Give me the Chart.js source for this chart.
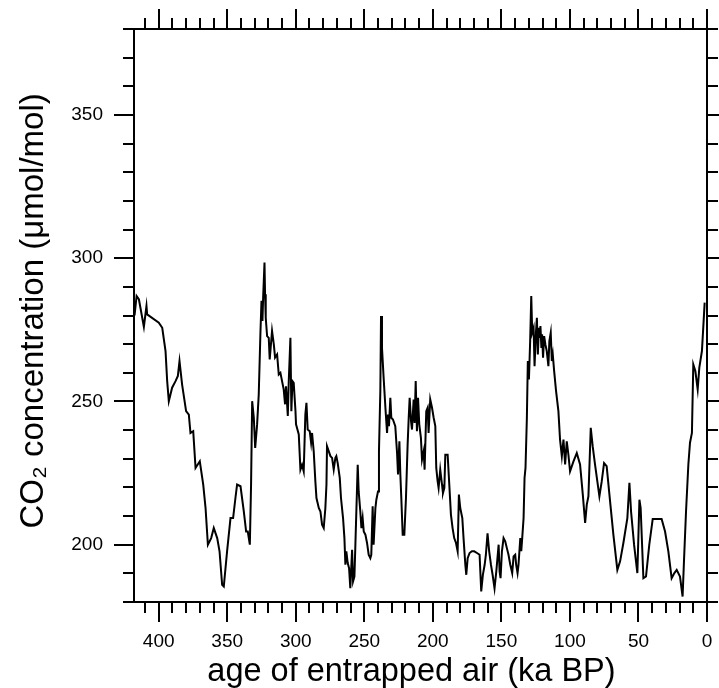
<!DOCTYPE html>
<html>
<head>
<meta charset="utf-8">
<script src="https://cdn.jsdelivr.net/npm/chart.js@4.4.1/dist/chart.umd.min.js"></script>
<style>
html,body{margin:0;padding:0;background:#fff;}
#wrap{width:719px;height:688px;}
</style>
</head>
<body>
<div id="wrap"><canvas id="c" width="719" height="688"></canvas></div>
<script>
// age of entrapped air (ka BP)
const ages = [
417.6,416.1,414.4,410.8,408.9,408.4,399.9,397.4,395.0,393.8,392.6,390.2,387.7,386.0,384.8,382.9,380.0,378.0,376.8,374.8,
373.1,370.0,367.5,365.8,364.1,361.7,359.8,357.3,355.6,353.7,352.5,350.1,347.6,345.7,344.0,342.8,340.3,337.9,336.2,335.0,
333.5,332.6,331.8,330.6,329.6,328.2,327.0,325.8,325.0,324.3,323.8,322.8,322.4,321.9,320.9,319.7,319.0,317.3,316.0,315.1,
313.6,312.4,311.2,308.8,307.8,307.1,305.8,305.1,303.9,303.2,302.4,301.5,300.2,299.8,297.8,
296.6,295.4,294.2,293.0,292.2,291.3,289.8,288.8,288.1,286.9,285.7,284.9,283.2,282.0,280.8,279.6,278.4,277.6,277.2,275.9,
274.7,273.5,272.3,271.1,270.4,269.4,267.9,267.0,265.5,264.5,263.8,263.1,262.1,261.1,260.2,258.9,258.2,257.2,256.5,255.8,
254.8,254.1,252.9,252.1,251.2,250.4,249.2,248.0,246.8,245.6,244.9,243.9,243.2,241.9,241.2,240.0,239.3,238.3,237.8,237.1,
235.9,234.6,233.4,232.7,232.0,231.0,230.3,229.1,227.4,226.1,225.4,224.4,223.7,223.0,222.0,220.8,219.6,218.4,217.6,216.9,
215.9,215.2,214.0,213.3,212.5,211.6,210.8,209.9,208.7,207.9,206.7,206.0,204.8,203.8,203.1,201.9,200.6,199.4,198.2,197.5,
196.5,195.8,194.6,193.3,192.6,191.6,190.9,189.2,188.0,186.8,185.6,184.4,183.1,181.9,181.0,180.0,178.5,177.6,176.3,175.6,
174.6,173.2,171.5,169.8,167.8,165.9,164.7,163.5,162.2,161.3,160.1,158.9,157.6,156.4,155.0,153.7,152.0,151.3,150.6,149.6,
148.4,147.2,146.0,144.8,143.5,142.1,141.1,139.9,139.2,138.2,137.5,136.2,135.5,134.8,133.8,133.1,132.4,131.4,130.7,129.9,
129.0,128.2,127.5,126.5,125.8,124.8,124.1,123.4,122.6,
122.2,121.5,120.8,120.3,119.6,118.8,117.9,116.9,115.7,115.0,114.0,113.2,112.5,111.5,110.1,108.4,107.2,105.9,104.7,103.5,
102.3,101.1,99.9,97.4,95.0,92.6,90.6,88.9,87.7,86.5,84.8,83.4,81.7,80.0,78.5,76.8,75.1,73.2,70.7,68.3,
65.4,63.4,61.0,58.1,56.6,55.4,53.2,50.8,49.3,48.4,46.4,44.5,42.1,39.6,36.7,33.1,30.6,28.2,25.8,23.8,
22.1,19.7,17.8,16.8,15.3,13.6,12.4,11.0,10.0,8.5,6.8,5.6,3.7,1.7
];
// CO2 concentration (umol/mol)
const co2 = [
280.0,286.8,285.6,276.0,283.3,280.4,277.5,275.7,267.6,257.1,250.1,254.8,257.1,258.9,264.1,255.9,246.6,245.4,239.0,239.6,
226.8,229.1,221.0,212.8,200.0,202.3,205.8,202.3,197.7,186.0,185.4,197.7,209.3,209.3,216.3,221.0,220.4,211.6,204.6,204.6,
200.0,221.0,250.1,244.3,233.8,241.9,252.4,273.4,285.1,278.1,286.2,298.5,287.4,279.2,272.8,272.2,264.7,274.6,269.9,265.3,
266.4,259.4,260.0,254.2,249.0,255.3,244.9,257.1,272.2,246.6,257.1,256.5,246.6,242.0,238.5,
226.2,227.9,225.6,245.4,249.5,240.2,239.6,235.6,239.0,232.6,222.1,216.3,212.8,211.6,207.0,205.8,212.8,221.0,234.4,232.6,
230.9,230.3,226.2,230.3,230.9,228.5,223.3,216.3,209.3,202.3,193.0,197.7,193.6,191.8,184.8,198.2,187.2,188.9,200.0,211.6,
227.9,218.6,211.6,205.8,209.3,204.6,203.5,200.6,196.5,195.3,196.5,213.4,200.0,212.8,215.7,218.6,232.6,253.6,279.8,268.7,
258.3,247.8,239.0,245.4,241.4,251.3,244.3,243.7,241.4,232.0,224.5,236.1,224.5,216.3,203.5,203.5,216.3,234.9,244.3,251.3,
243.1,240.2,250.7,242.5,257.1,239.6,251.3,242.0,237.3,229.7,232.6,226.2,246.6,247.8,239.0,250.7,247.8,244.3,241.4,226.8,
222.1,219.8,226.2,221.0,218.0,219.8,231.4,231.4,221.0,210.5,205.8,202.3,200.6,197.7,217.5,212.8,209.3,202.3,193.0,189.5,
195.3,197.1,197.7,197.7,197.1,196.5,183.7,189.5,193.0,196.5,204.0,197.7,193.0,189.5,184.8,190.7,200.0,190.7,188.3,197.7,
202.3,201.2,198.8,196.5,193.0,190.1,195.9,196.5,193.0,190.1,193.0,202.3,197.7,202.3,209.3,223.3,226.8,244.3,264.1,257.7,
271.1,286.8,274.0,275.7,262.3,274.0,279.2,266.4,275.7,
272.2,276.3,268.7,273.4,265.3,272.8,269.9,267.6,262.3,271.1,274.0,264.1,266.4,260.6,253.6,246.6,236.7,230.9,236.7,228.0,
236.1,231.4,225.6,229.1,232.0,228.0,217.5,207.6,214.0,216.9,240.8,234.4,228.0,222.1,216.9,222.1,228.5,227.4,215.1,203.5,
191.2,194.2,200.6,209.3,221.6,211.6,200.0,190.1,215.7,212.8,188.3,188.9,200.0,209.0,209.0,209.0,204.6,197.7,188.3,190.1,
191.2,188.9,181.9,194.2,211.6,228.0,235.6,239.0,262.9,260.6,254.2,261.8,267.6,284.5
];
// tick labels
const xTickLabels = [400, 350, 300, 250, 200, 150, 100, 50, 0];
const yTickLabels = [200, 250, 300, 350];
const xTitle = 'age of entrapped air (ka BP)\u00a0\u00a0';
const yTitle = '\u00a0CO\u2082 concentration (\u03bcmol/mol)';

const FONT = "'Liberation Sans', Arial, Helvetica, sans-serif";
const X_MIN = 0, X_MAX = 418, Y_MIN = 180, Y_MAX = 380;

const tickMarks = {
  id: 'tickMarks',
  afterDraw(chart) {
    const ctx = chart.ctx, a = chart.chartArea;
    ctx.save();
    ctx.strokeStyle = '#000';
    ctx.lineWidth = 2;
    const sides = [['x', 'bottom'], ['x2', 'top'], ['y', 'left'], ['y2', 'right']];
    for (const [id, side] of sides) {
      const s = chart.scales[id];
      for (const t of s.ticks) {
        const p = Math.round(s.getPixelForValue(t.value));
        const len = (t.value % 50 === 0) ? 20 : 11;
        ctx.beginPath();
        if (side === 'bottom') { ctx.moveTo(p, a.bottom); ctx.lineTo(p, a.bottom + len); }
        else if (side === 'top') { ctx.moveTo(p, a.top); ctx.lineTo(p, a.top - len); }
        else if (side === 'left') { ctx.moveTo(a.left, p); ctx.lineTo(a.left - len, p); }
        else { ctx.moveTo(a.right, p); ctx.lineTo(a.right + len, p); }
        ctx.stroke();
      }
    }
    ctx.restore();
  }
};

function fixSize(prop, val) {
  return s => {
    s[prop] = val;
    s.paddingLeft = 0; s.paddingRight = 0; s.paddingTop = 0; s.paddingBottom = 0;
  };
}

const gridOpts = { display: true, drawOnChartArea: false, drawTicks: false };
const borderOpts = { display: true, color: '#000', width: 2 };

new Chart(document.getElementById('c'), {
  type: 'line',
  data: {
    datasets: [{
      data: ages.map((a, i) => ({ x: a, y: co2[i] })),
      borderColor: '#000',
      borderWidth: 2,
      pointRadius: 0,
      fill: false,
      tension: 0
    }]
  },
  options: {
    responsive: false,
    animation: false,
    layout: { padding: 0 },
    plugins: { legend: { display: false }, tooltip: { enabled: false } },
    scales: {
      x: {
        type: 'linear', position: 'bottom', min: X_MIN, max: X_MAX, reverse: true,
        afterFit: fixSize('height', 86),
        grid: gridOpts, border: borderOpts,
        ticks: {
          stepSize: 10, autoSkip: false, maxRotation: 0, minRotation: 0, includeBounds: false,
          padding: 28, color: '#000', font: { family: FONT, size: 19 },
          callback: v => xTickLabels.includes(v) ? String(v) : ''
        },
        title: { display: true, text: xTitle, color: '#000', font: { family: FONT, size: 32.5, lineHeight: 1 }, padding: 0 }
      },
      x2: {
        type: 'linear', position: 'top', min: X_MIN, max: X_MAX, reverse: true,
        afterFit: fixSize('height', 29),
        grid: gridOpts, border: borderOpts,
        ticks: { stepSize: 10, autoSkip: false, includeBounds: false, display: false }
      },
      y: {
        type: 'linear', position: 'left', min: Y_MIN, max: Y_MAX,
        afterFit: fixSize('width', 134),
        grid: gridOpts, border: borderOpts,
        ticks: {
          stepSize: 10, autoSkip: false, includeBounds: false,
          padding: 31, color: '#000', font: { family: FONT, size: 19 },
          callback: v => yTickLabels.includes(v) ? String(v) : ''
        },
        title: { display: true, text: yTitle, color: '#000', font: { family: FONT, size: 33, lineHeight: 1 }, padding: { top: 17, bottom: 0 } }
      },
      y2: {
        type: 'linear', position: 'right', min: Y_MIN, max: Y_MAX,
        afterFit: fixSize('width', 12),
        grid: gridOpts, border: borderOpts,
        ticks: { stepSize: 10, autoSkip: false, includeBounds: false, display: false }
      }
    }
  },
  plugins: [tickMarks]
});
</script>
</body>
</html>
